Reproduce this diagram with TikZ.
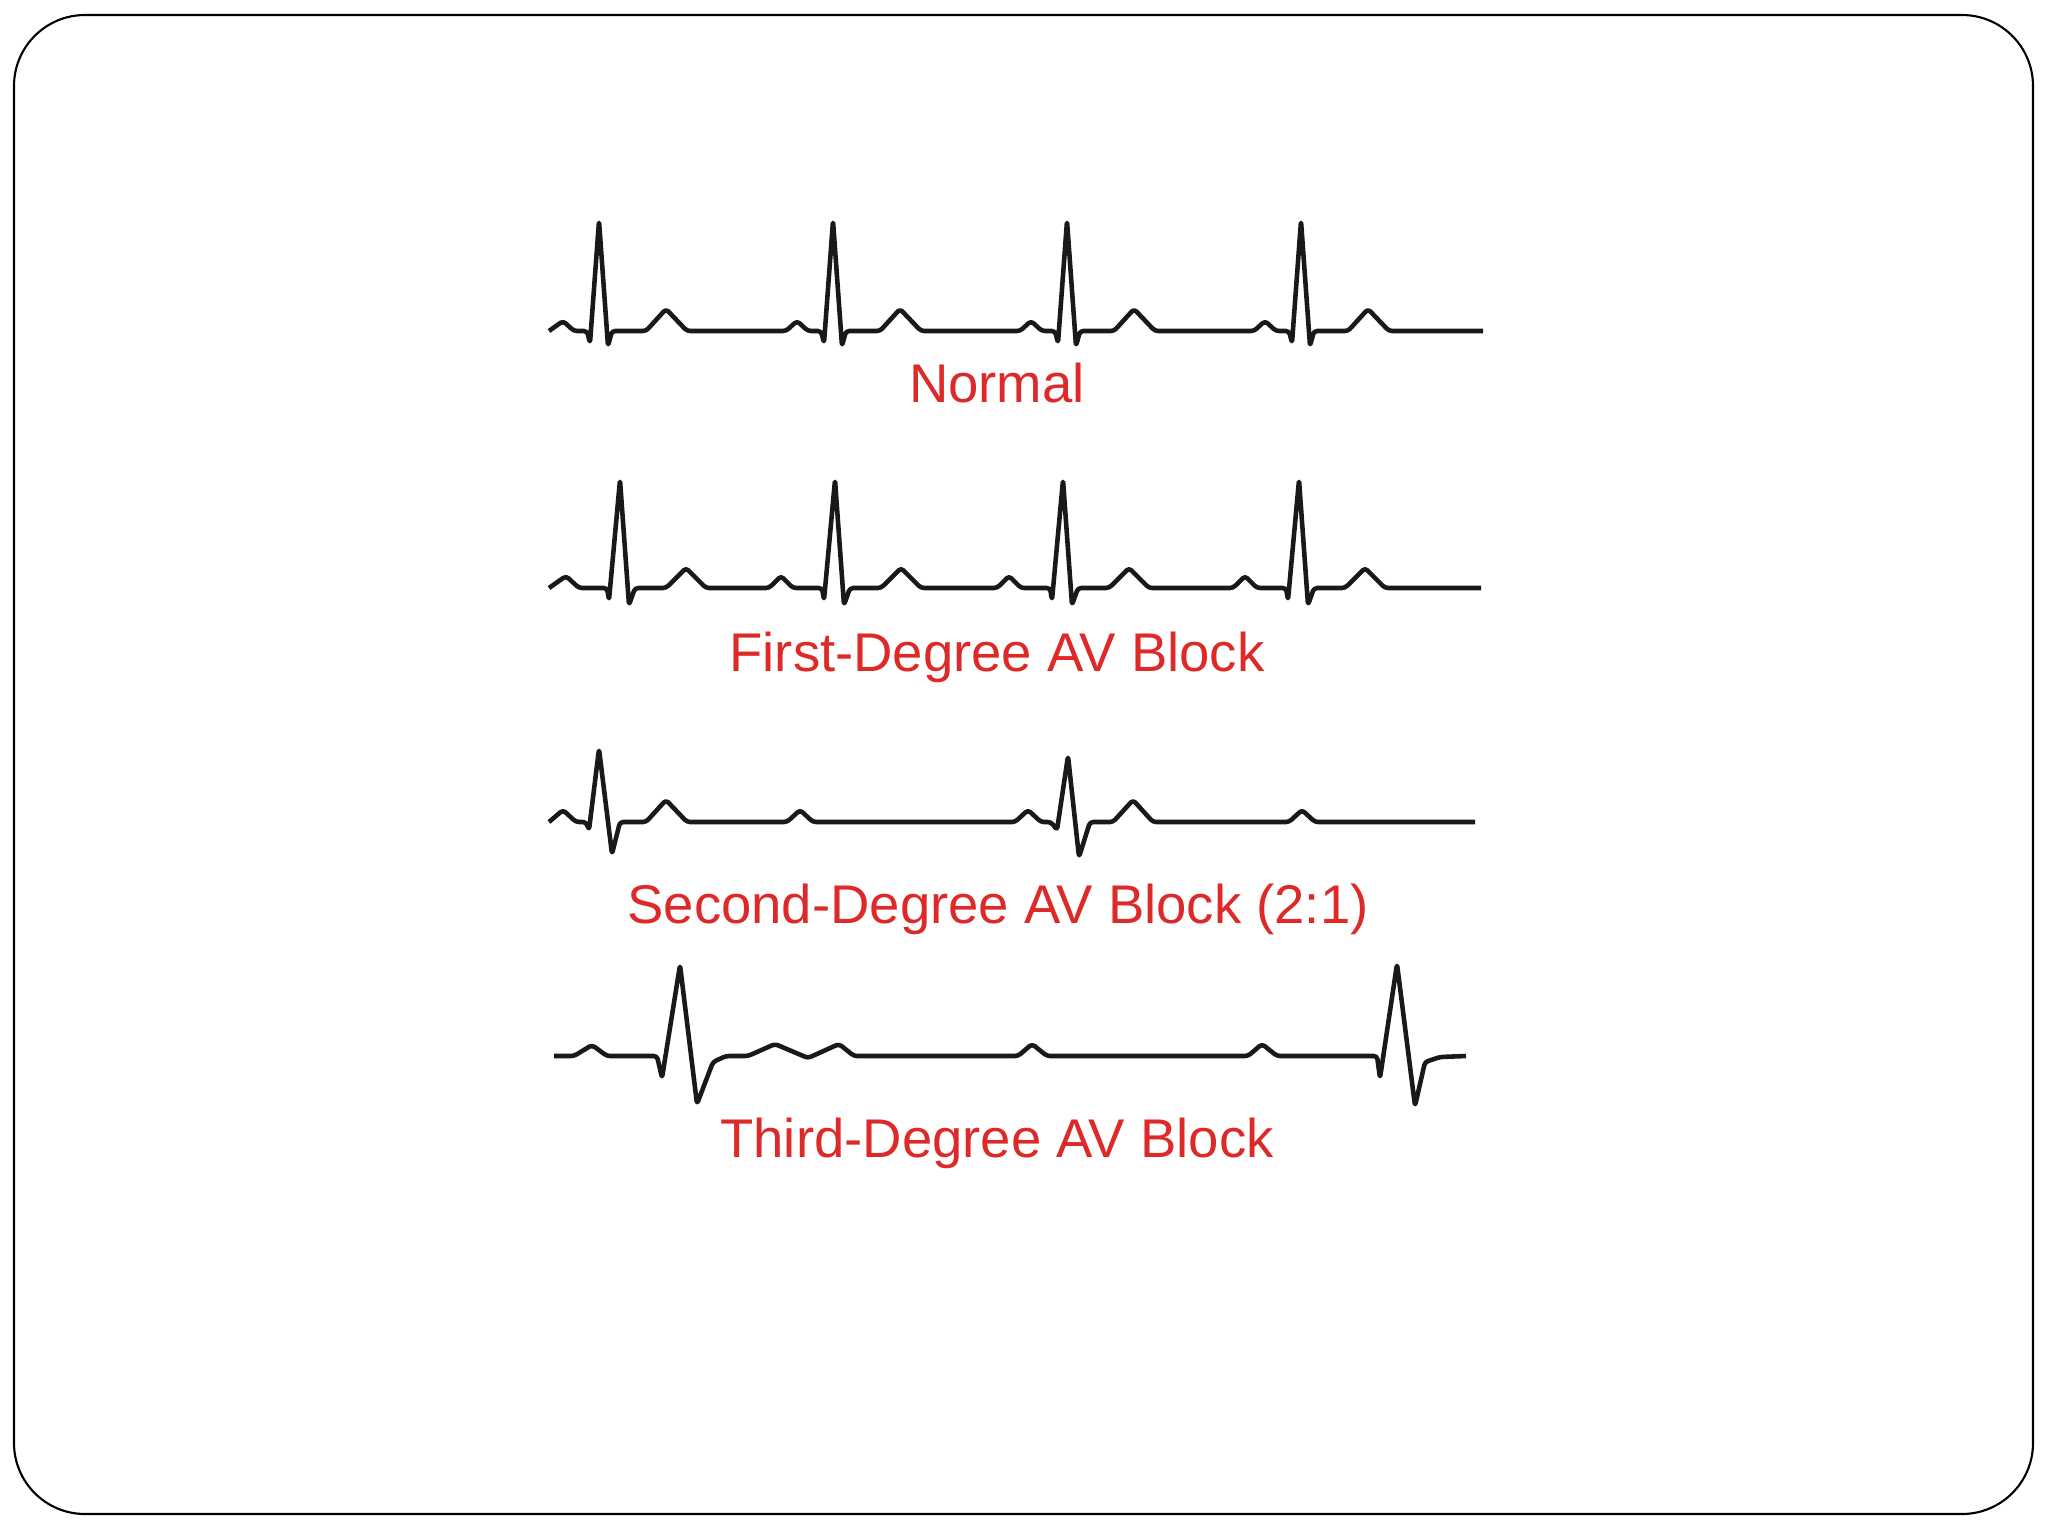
\documentclass[tikz,border=0pt]{standalone}
\usepackage{fontspec}
\setmainfont{Liberation Sans}
\definecolor{lblred}{RGB}{222,41,41}

\begin{document}
\begin{tikzpicture}[
		x=0.01cm, y=-0.01cm,
		frame/.style = {draw=black, line width=0.6pt, rounded corners=7.1mm},
		ecg/.style   = {draw=black!90, line width=1.3pt, line join=round, rounded corners=0.9pt},
		lbl/.style   = {text=lblred, anchor=base, inner sep=0pt, font=\fontsize{15.5}{18}\selectfont}
		]
		\useasboundingbox (0,0) rectangle (2048,1536);
		
		%Frame
		\draw[frame] (14,15) rectangle (2033,1514);
		
		%Labels
		\node[lbl] (normal) at (997,402)  {Normal};
		\node[lbl] (first)  at (997,671)  {First-Degree AV Block};
		\node[lbl] (second) at (998,923)  {Second-Degree AV Block (2:1)};
		\node[lbl] (third)  at (997,1157) {Third-Degree AV Block};
		
		%Traces
		\draw[ecg] (549,331) -- (563,321) -- (574,331) -- (587,331) -- (590,343) -- (599,221) -- (608,346) -- (612,331) -- (646,331) -- (666,309) -- (687,331)
			-- (786,331) -- (797,321) -- (808,331) -- (821,331) -- (824,343) -- (833,221) -- (842,346) -- (846,331) -- (880,331) -- (900,309) -- (921,331)
			-- (1020,331) -- (1031,321) -- (1042,331) -- (1055,331) -- (1058,343) -- (1067,221) -- (1076,346) -- (1080,331) -- (1114,331) -- (1134,309) -- (1155,331)
			-- (1254,331) -- (1265,321) -- (1276,331) -- (1289,331) -- (1292,343) -- (1301,221) -- (1310,346) -- (1314,331) -- (1348,331) -- (1368,309) -- (1389,331)
			-- (1483,331);
		
		\draw[ecg] (549,588) -- (566,576) -- (579,588) -- (607,588) -- (609,600) -- (620,480) -- (629,605) -- (635,588) -- (666,588) -- (686,568) -- (706,588)
			-- (769,588) -- (781,576) -- (793,588) -- (822,588) -- (824,600) -- (835,480) -- (844,605) -- (850,588) -- (881,588) -- (901,568) -- (921,588)
			-- (997,588) -- (1009,576) -- (1021,588) -- (1050,588) -- (1052,600) -- (1063,480) -- (1072,605) -- (1078,588) -- (1109,588) -- (1129,568) -- (1149,588)
			-- (1233,588) -- (1245,576) -- (1257,588) -- (1286,588) -- (1288,600) -- (1299,480) -- (1308,605) -- (1314,588) -- (1345,588) -- (1365,568) -- (1385,588)
			-- (1481,588);
		
		\draw[ecg] (549,822) -- (563,810) -- (576,822) -- (586,822) -- (589,830) -- (599,749) -- (612,854) -- (620,822) -- (646,822) -- (666,800) -- (687,822)
			-- (787,822) -- (800,810) -- (813,822)
			-- (1015,822) -- (1028,810) -- (1041,822) -- (1051,822) -- (1057,830) -- (1068,756) -- (1079,857) -- (1090,822) -- (1113,822) -- (1133,800) -- (1153,822)
			-- (1289,822) -- (1302,810) -- (1315,822)
			-- (1475,822);
		
		\draw[ecg] (554,1056) -- (574,1056) -- (592,1045) -- (607,1056) -- (657,1056) -- (662,1078) -- (680,965) -- (697,1104) -- (713,1062) -- (726,1056)
			-- (748,1056) -- (775,1044) -- (808,1058) -- (839,1044) -- (854,1056)
			-- (1018,1056) -- (1032,1044) -- (1047,1056)
			-- (1248,1056) -- (1262,1044) -- (1277,1056)
			-- (1377,1056) -- (1380,1078) -- (1397,964) -- (1415,1106) -- (1425,1062) -- (1440,1057) -- (1466,1056);
		
	\end{tikzpicture}
\end{document}
